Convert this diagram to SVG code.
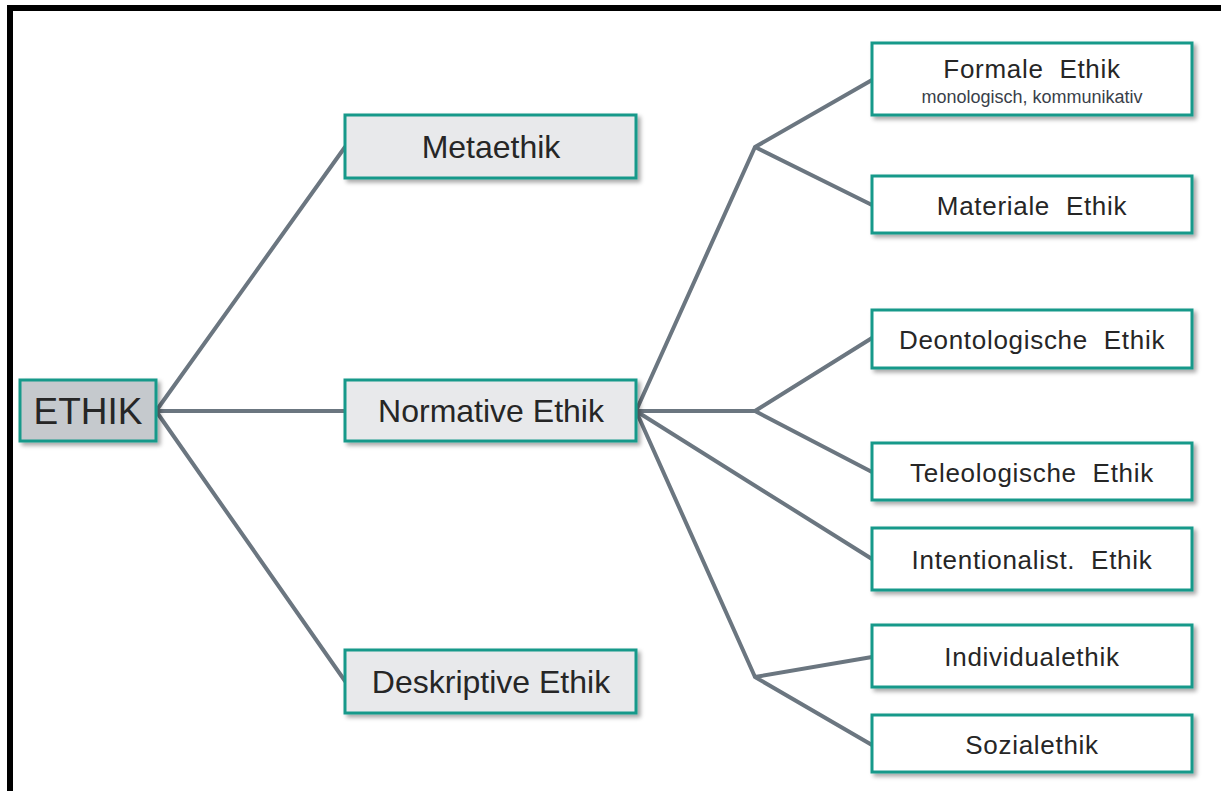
<svg xmlns="http://www.w3.org/2000/svg" width="1221" height="791" viewBox="0 0 1221 791">
<defs>
<filter id="sh" x="-10%" y="-20%" width="130%" height="150%">
<feDropShadow dx="3" dy="3" stdDeviation="2" flood-color="#000" flood-opacity="0.35"/>
</filter>
</defs>
<style>
.box{stroke:#16998a;stroke-width:3;filter:url(#sh)}
.g1{fill:#c5c9cd}
.g2{fill:#e8e9eb}
.w{fill:#ffffff}
text{font-family:"Liberation Sans",Arial,sans-serif;fill:#262626;text-anchor:middle}
.l1{font-size:37px}
.l2{font-size:32px}
.l3{font-size:26px;letter-spacing:0.7px;white-space:pre}
.sub{font-size:18px;fill:#3a3f4a}
.c{stroke:#6b7680;stroke-width:4;fill:none;stroke-linecap:round;stroke-linejoin:round}
</style>
<rect x="0" y="0" width="1221" height="791" fill="#ffffff"/>
<path d="M10,800 V8 H1230" fill="none" stroke="#000" stroke-width="6"/>
<g id="connectors">
<path class="c" d="M156,411 L345,147 M156,411 L345,411 M156,411 L345,681"/>
<path class="c" d="M636,411 L755,147 L872,80 M755,147 L872,205"/>
<path class="c" d="M636,411 L755,411 L872,338 M755,411 L872,472"/>
<path class="c" d="M636,411 L872,559"/>
<path class="c" d="M636,411 L755,677 L872,657 M755,677 L872,745"/>
</g>
<g id="ethik"><rect class="box g1" x="20" y="380" width="136" height="61"/><text class="l1" x="88" y="424">ETHIK</text></g>
<g id="metaethik"><rect class="box g2" x="345" y="115" width="291" height="63"/><text class="l2" x="491" y="158">Metaethik</text></g>
<g id="normative"><rect class="box g2" x="345" y="380" width="291" height="61"/><text class="l2" x="491" y="422">Normative Ethik</text></g>
<g id="deskriptive"><rect class="box g2" x="345" y="650" width="291" height="63"/><text class="l2" x="491" y="693">Deskriptive Ethik</text></g>
<g id="formale"><rect class="box w" x="872" y="43" width="320" height="72"/><text class="l3" x="1032" y="78">Formale  Ethik</text><text class="sub" x="1032" y="103">monologisch, kommunikativ</text></g>
<g id="materiale"><rect class="box w" x="872" y="176" width="320" height="57"/><text class="l3" x="1032" y="215">Materiale  Ethik</text></g>
<g id="deontologische"><rect class="box w" x="872" y="310" width="320" height="58"/><text class="l3" x="1032" y="349">Deontologische  Ethik</text></g>
<g id="teleologische"><rect class="box w" x="872" y="443" width="320" height="57"/><text class="l3" x="1032" y="482">Teleologische  Ethik</text></g>
<g id="intentionalist"><rect class="box w" x="872" y="528" width="320" height="62"/><text class="l3" x="1032" y="569">Intentionalist.  Ethik</text></g>
<g id="individualethik"><rect class="box w" x="872" y="625" width="320" height="62"/><text class="l3" x="1032" y="666">Individualethik</text></g>
<g id="sozialethik"><rect class="box w" x="872" y="715" width="320" height="57"/><text class="l3" x="1032" y="754">Sozialethik</text></g>
</svg>
